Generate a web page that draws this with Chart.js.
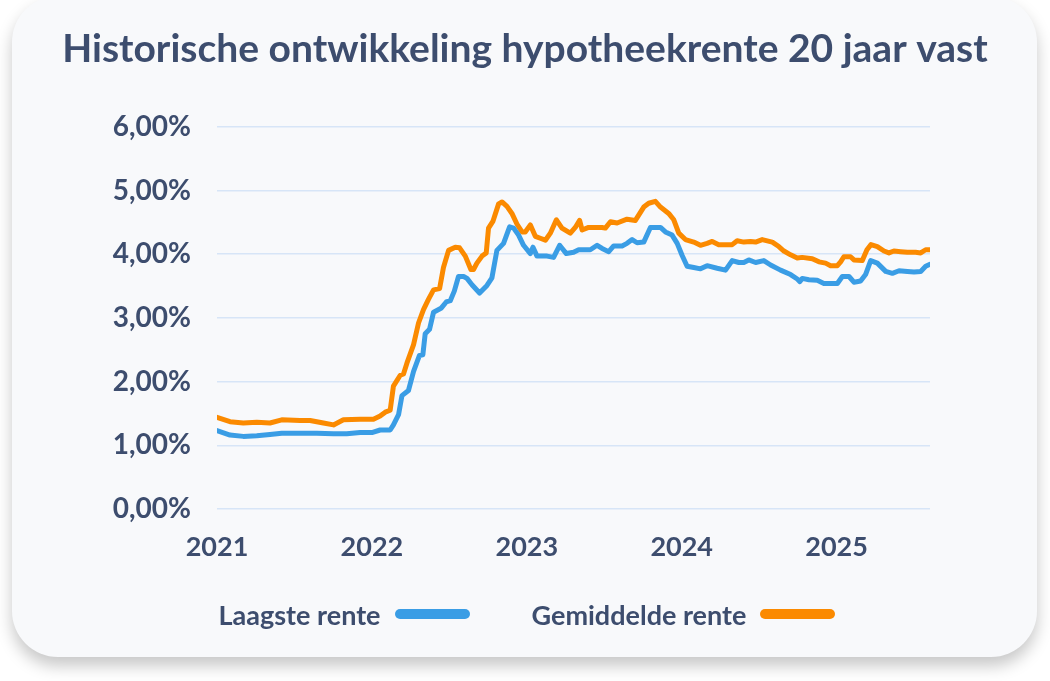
<!DOCTYPE html>
<html>
<head>
<meta charset="utf-8">
<script src="https://cdn.jsdelivr.net/npm/chart.js@4.4.1/dist/chart.umd.min.js"></script>
<style>
  html, body { margin: 0; padding: 0; background: #ffffff; width: 1050px; height: 681px; overflow: hidden; }
  #card { position: absolute; left: 12px; top: -4px; width: 1025px; height: 661px; border-radius: 46px;
          background: #f8f9fb; box-shadow: 0 9px 16px rgba(0,0,0,0.22); }
  #wrap { position: absolute; left: 0; top: 0; width: 1050px; height: 681px; }
  #legend { position: absolute; left: 2px; top: 597px; width: 1050px; height: 34px; display: flex;
            justify-content: center; align-items: center; font-family: Lato, sans-serif; font-weight: bold;
            font-size: 27px; color: #3d4d6e; }
  .item { display: flex; align-items: center; }
  .item + .item { margin-left: 62px; }
  .swatch { width: 75px; height: 10px; border-radius: 5px; margin-left: 14px; }
</style>
</head>
<body>
<div id="card"></div>
<div id="wrap"><canvas id="c" width="1050" height="681"></canvas></div>
<div id="legend"></div>
<script>
const chartTitle = 'Historische ontwikkeling hypotheekrente 20 jaar vast';
const seriesNames = ['Laagste rente', 'Gemiddelde rente'];
const xTickLabels = ['2021', '2022', '2023', '2024', '2025'];
const yTickLabels = ['0,00%', '1,00%', '2,00%', '3,00%', '4,00%', '5,00%', '6,00%'];

const laagsteJaar = [2021.000,2021.084,2021.170,2021.257,2021.342,2021.418,2021.536,2021.644,2021.752,2021.838,2021.924,2022.000,2022.053,2022.118,2022.139,2022.172,2022.194,2022.236,2022.269,2022.307,2022.329,2022.344,2022.372,2022.398,2022.446,2022.480,2022.506,2022.532,2022.559,2022.592,2022.614,2022.646,2022.695,2022.743,2022.775,2022.807,2022.850,2022.889,2022.915,2022.947,2022.979,2023.023,2023.040,2023.066,2023.131,2023.173,2023.212,2023.255,2023.302,2023.335,2023.410,2023.454,2023.486,2023.529,2023.561,2023.615,2023.647,2023.680,2023.712,2023.755,2023.798,2023.863,2023.895,2023.938,2023.971,2024.003,2024.035,2024.078,2024.121,2024.164,2024.229,2024.283,2024.326,2024.369,2024.401,2024.433,2024.477,2024.530,2024.574,2024.638,2024.703,2024.746,2024.763,2024.778,2024.821,2024.875,2024.918,2025.005,2025.037,2025.080,2025.112,2025.155,2025.187,2025.220,2025.263,2025.317,2025.360,2025.403,2025.457,2025.500,2025.543,2025.575,2025.603];
const laagsteRente = [1.23,1.16,1.14,1.15,1.17,1.19,1.19,1.19,1.18,1.18,1.20,1.20,1.24,1.24,1.32,1.48,1.78,1.86,2.16,2.41,2.42,2.75,2.82,3.09,3.15,3.25,3.27,3.42,3.65,3.65,3.62,3.52,3.39,3.51,3.63,4.06,4.17,4.43,4.41,4.30,4.14,4.01,4.11,3.97,3.97,3.95,4.14,4.01,4.03,4.07,4.07,4.14,4.09,4.04,4.13,4.13,4.17,4.23,4.18,4.19,4.42,4.42,4.35,4.30,4.17,3.98,3.81,3.79,3.77,3.82,3.78,3.75,3.90,3.87,3.87,3.91,3.87,3.90,3.83,3.75,3.68,3.61,3.57,3.62,3.60,3.59,3.54,3.54,3.65,3.65,3.56,3.58,3.68,3.90,3.86,3.73,3.70,3.74,3.73,3.72,3.73,3.81,3.84];

const gemiddeldeJaar = [2021.000,2021.084,2021.170,2021.257,2021.342,2021.418,2021.536,2021.601,2021.687,2021.752,2021.816,2021.924,2022.010,2022.053,2022.086,2022.118,2022.139,2022.183,2022.204,2022.226,2022.269,2022.301,2022.333,2022.365,2022.398,2022.437,2022.462,2022.495,2022.538,2022.566,2022.603,2022.639,2022.656,2022.678,2022.711,2022.738,2022.753,2022.782,2022.818,2022.840,2022.872,2022.904,2022.937,2022.969,2022.990,2023.023,2023.055,2023.087,2023.120,2023.152,2023.191,2023.227,2023.281,2023.313,2023.341,2023.357,2023.399,2023.486,2023.507,2023.540,2023.583,2023.647,2023.701,2023.755,2023.787,2023.830,2023.863,2023.916,2023.949,2023.981,2024.024,2024.078,2024.121,2024.164,2024.197,2024.239,2024.326,2024.358,2024.401,2024.444,2024.477,2024.520,2024.585,2024.627,2024.660,2024.703,2024.746,2024.778,2024.843,2024.886,2024.929,2024.961,2025.005,2025.026,2025.047,2025.090,2025.112,2025.166,2025.196,2025.222,2025.263,2025.306,2025.338,2025.370,2025.414,2025.457,2025.510,2025.543,2025.575,2025.603];
const gemiddeldeRente = [1.44,1.37,1.35,1.36,1.35,1.40,1.39,1.39,1.35,1.32,1.40,1.41,1.41,1.46,1.52,1.55,1.93,2.10,2.12,2.29,2.58,2.92,3.13,3.29,3.44,3.46,3.79,4.06,4.11,4.10,3.97,3.76,3.76,3.86,3.97,4.02,4.41,4.52,4.79,4.82,4.75,4.64,4.47,4.35,4.35,4.46,4.28,4.25,4.22,4.33,4.54,4.41,4.33,4.42,4.53,4.38,4.42,4.42,4.41,4.51,4.49,4.55,4.53,4.74,4.80,4.83,4.74,4.64,4.54,4.33,4.23,4.19,4.14,4.17,4.20,4.15,4.15,4.21,4.19,4.20,4.19,4.23,4.19,4.12,4.05,3.99,3.94,3.95,3.93,3.88,3.86,3.82,3.82,3.88,3.96,3.96,3.91,3.90,4.07,4.15,4.12,4.05,4.02,4.05,4.04,4.03,4.03,4.02,4.07,4.07];

const textColor = '#3d4d6e';
const seriesColors = ['#3a9de5', '#fb8a00'];
const font = 'Lato';

function pts(xs, ys) { return xs.map((x, i) => ({ x: x, y: ys[i] })); }

const chart = new Chart(document.getElementById('c'), {
  type: 'line',
  data: {
    datasets: [
      { label: seriesNames[0], data: pts(laagsteJaar, laagsteRente), borderColor: seriesColors[0], backgroundColor: seriesColors[0],
        borderWidth: 5, pointRadius: 0, tension: 0, borderJoinStyle: 'round', borderCapStyle: 'round' },
      { label: seriesNames[1], data: pts(gemiddeldeJaar, gemiddeldeRente), borderColor: seriesColors[1], backgroundColor: seriesColors[1],
        borderWidth: 5, pointRadius: 0, tension: 0, borderJoinStyle: 'round', borderCapStyle: 'round' }
    ]
  },
  options: {
    responsive: false,
    animation: false,
    layout: { padding: { left: 0, right: 0, top: 0, bottom: 112 } },
    plugins: {
      title: {
        display: true, text: chartTitle, color: textColor,
        font: { family: font, size: 39, weight: 'bold' },
        padding: { top: 26, bottom: 54 }
      },
      legend: { display: false },
      tooltip: { enabled: false }
    },
    scales: {
      x: {
        type: 'linear', min: 2021, max: 2025.603,
        grid: { display: false }, border: { display: false },
        ticks: {
          stepSize: 1, includeBounds: false, color: textColor, padding: 14, autoSkip: false, maxRotation: 0,
          font: { family: font, size: 27, weight: 'bold' },
          callback: (v) => { const i = xTickLabels.indexOf(String(v)); return i >= 0 ? xTickLabels[i] : ''; }
        },
        afterFit: (s) => { s.height = 60; }
      },
      y: {
        min: 0, max: 6,
        grid: { color: '#d7e5f7', lineWidth: 1.5, drawTicks: false }, border: { display: false },
        ticks: {
          stepSize: 1, color: textColor, padding: 26,
          font: { family: font, size: 28, weight: 'bold' },
          callback: (v) => yTickLabels[Math.round(v)]
        },
        afterFit: (s) => { s.width = 217; }
      },
      y2: {
        position: 'right', display: true,
        grid: { display: false }, border: { display: false },
        ticks: { display: false },
        afterFit: (s) => { s.width = 120; }
      }
    }
  }
});

// HTML legend built from the chart's datasets
const legendEl = document.getElementById('legend');
chart.data.datasets.forEach((ds) => {
  const item = document.createElement('div');
  item.className = 'item';
  const label = document.createElement('span');
  label.textContent = ds.label;
  const sw = document.createElement('span');
  sw.className = 'swatch';
  sw.style.background = ds.borderColor;
  item.appendChild(label);
  item.appendChild(sw);
  legendEl.appendChild(item);
});
</script>
</body>
</html>
